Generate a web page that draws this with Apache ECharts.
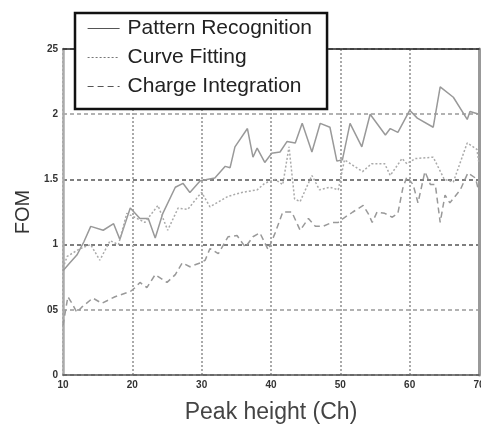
<!DOCTYPE html>
<html>
<head>
<meta charset="utf-8">
<script src="https://cdn.jsdelivr.net/npm/echarts@6/dist/echarts.min.js"></script>
<style>
html,body{margin:0;padding:0;background:#fff;}
#chart{width:481px;height:426px;}
</style>
</head>
<body>
<div id="chart"></div>
<script>
var seriesNames = ['Pattern Recognition', 'Curve Fitting', 'Charge Integration'];
var xTickLabels = ['10', '20', '30', '40', '50', '60', '70'];
var yTickLabels = ['0', '05', '1', '1.5', '2', '25'];

var prX = [10, 11, 12, 13, 14, 15.8, 17.3, 18.2, 19.7, 21.1, 22.3, 23.3, 24.4, 26.2, 27.3, 28.3, 29.8, 31.9, 33.4, 34.1, 34.8, 36.6, 37.4, 38, 39.1, 40.1, 41.3, 42.3, 43.5, 44.5, 45.9, 47.1, 48.5, 49.5, 50.3, 51.4, 53.1, 54.3, 56.5, 57.2, 58.3, 60, 61.1, 63.4, 64.4, 66.3, 68.3, 68.7, 70];
var prY = [0.80, 0.86, 0.92, 1.02, 1.14, 1.11, 1.16, 1.04, 1.28, 1.20, 1.20, 1.05, 1.24, 1.44, 1.47, 1.40, 1.49, 1.51, 1.60, 1.59, 1.75, 1.89, 1.67, 1.74, 1.63, 1.70, 1.71, 1.79, 1.78, 1.93, 1.71, 1.93, 1.90, 1.64, 1.65, 1.93, 1.75, 2.00, 1.84, 1.89, 1.86, 2.03, 1.97, 1.90, 2.21, 2.13, 1.96, 2.02, 2.00];

var cfX = [10, 10.6, 12.5, 14, 15.3, 16.8, 18, 19.2, 20.7, 21.8, 23.7, 25.1, 26.6, 28, 29.5, 30, 31.2, 33.8, 35.8, 38, 39.1, 40.6, 41.7, 42.6, 43.4, 44.2, 45.9, 47, 48.5, 49.7, 50.6, 53.2, 54.5, 56.4, 57.2, 58.9, 59.6, 60.8, 63.4, 65, 66.3, 68.3, 69.7, 70];
var cfY = [0.82, 0.91, 0.97, 1.00, 0.88, 1.03, 1.00, 1.24, 1.20, 1.17, 1.30, 1.11, 1.28, 1.27, 1.37, 1.40, 1.29, 1.37, 1.40, 1.42, 1.47, 1.50, 1.46, 1.75, 1.35, 1.33, 1.53, 1.42, 1.44, 1.42, 1.65, 1.56, 1.62, 1.62, 1.53, 1.66, 1.62, 1.66, 1.67, 1.50, 1.48, 1.78, 1.73, 1.62];

var ciX = [10, 10.7, 11.3, 12, 12.7, 14.3, 15.6, 17.5, 19.7, 20.4, 21.1, 22.1, 23.3, 25, 26.2, 27.2, 28.3, 29.8, 30.5, 31.2, 32.4, 33.8, 35.1, 36.3, 37.4, 38.4, 39.6, 40.6, 41.7, 43, 44.2, 45.4, 46.4, 47.5, 48.8, 49.7, 50.4, 51.8, 53.3, 54, 54.6, 55.3, 56.4, 57.5, 58.3, 59, 59.6, 60.5, 61.2, 62.2, 63, 63.7, 64.4, 65.1, 65.8, 67.3, 68.4, 69.5, 70];
var ciY = [0.38, 0.60, 0.55, 0.48, 0.52, 0.59, 0.55, 0.60, 0.64, 0.67, 0.71, 0.67, 0.77, 0.71, 0.77, 0.86, 0.83, 0.86, 0.88, 0.97, 0.93, 1.06, 1.07, 0.98, 1.06, 1.09, 0.96, 1.09, 1.25, 1.25, 1.11, 1.20, 1.14, 1.14, 1.17, 1.17, 1.20, 1.25, 1.30, 1.24, 1.17, 1.25, 1.24, 1.21, 1.24, 1.43, 1.52, 1.46, 1.32, 1.56, 1.46, 1.46, 1.17, 1.38, 1.32, 1.42, 1.55, 1.51, 1.40];

function pairs(xs, ys) { return xs.map(function (x, i) { return [x, ys[i]]; }); }

var chart = echarts.init(document.getElementById('chart'), null, {renderer: 'canvas'});
var font = 'Liberation Sans, Arial, sans-serif';
var hiddenSymbol = {color: 'rgba(0,0,0,0)', borderWidth: 0, opacity: 0};
var option = {
  animation: false,
  backgroundColor: '#fff',
  grid: {left: 63, right: 2, top: 49, bottom: 51, containLabel: false, outerBoundsMode: 'none'},
  legend: {
    orient: 'vertical',
    left: 75, top: 13,
    padding: [5, 15, 12, 12],
    itemGap: 8,
    itemWidth: 32, itemHeight: 14,
    borderColor: '#111', borderWidth: 2.5,
    backgroundColor: '#fff',
    z: 10,
    itemStyle: hiddenSymbol,
    textStyle: {fontFamily: font, fontSize: 21, color: '#222', padding: [0, 0, 0, 3]},
    data: [
      {name: seriesNames[0], itemStyle: hiddenSymbol, lineStyle: {color: '#555', width: 1.2}},
      {name: seriesNames[1], itemStyle: hiddenSymbol, lineStyle: {color: '#777', width: 1.2}},
      {name: seriesNames[2], itemStyle: hiddenSymbol, lineStyle: {color: '#555', width: 1.2}}
    ]
  },
  xAxis: [{
    type: 'value', min: 10, max: 70, interval: 10,
    name: 'Peak height (Ch)', nameLocation: 'middle', nameGap: 26,
    nameTextStyle: {fontFamily: font, fontSize: 23, color: '#444'},
    axisLine: {show: true, lineStyle: {color: '#555', width: 1.5}},
    axisTick: {show: false},
    axisLabel: {fontFamily: font, fontSize: 10, fontWeight: 'bold', color: '#333', margin: 5,
      formatter: function (v) { return xTickLabels[Math.round((v - 10) / 10)]; }},
    splitLine: {show: true, lineStyle: {color: '#aaa', width: 2, type: [2, 2]}}
  }, {
    type: 'value', min: 10, max: 70, position: 'top',
    axisLine: {show: true, onZero: false, lineStyle: {color: '#222', width: 1.5}},
    axisTick: {show: false}, axisLabel: {show: false}, splitLine: {show: false}
  }],
  yAxis: [{
    type: 'value', min: 0, max: 2.5, interval: 0.5,
    name: 'FOM', nameLocation: 'middle', nameGap: 30, nameRotate: 90,
    nameTextStyle: {fontFamily: font, fontSize: 20, color: '#333'},
    axisLine: {show: true, lineStyle: {color: '#aaa', width: 2.5}},
    axisTick: {show: false},
    axisLabel: {fontFamily: font, fontSize: 10, fontWeight: 'bold', color: '#333', margin: 5,
      formatter: function (v) { return yTickLabels[Math.round(v / 0.5)]; }},
    splitLine: {show: true, lineStyle: {color: ['#888', '#999', '#555', '#555', '#999', '#888'], width: 1.5, type: [4, 3]}}
  }, {
    type: 'value', min: 0, max: 2.5, position: 'right',
    axisLine: {show: true, onZero: false, lineStyle: {color: '#999', width: 3}},
    axisTick: {show: false}, axisLabel: {show: false}, splitLine: {show: false}
  }],
  series: [
    {name: seriesNames[0], type: 'line', symbol: 'none', data: pairs(prX, prY),
      lineStyle: {color: '#999', width: 1.5, type: 'solid'}, itemStyle: {color: '#555'}},
    {name: seriesNames[1], type: 'line', symbol: 'none', data: pairs(cfX, cfY),
      lineStyle: {color: '#aaa', width: 1.5, type: [2, 2]}, itemStyle: {color: '#555'}},
    {name: seriesNames[2], type: 'line', symbol: 'none', data: pairs(ciX, ciY),
      lineStyle: {color: '#999', width: 1.5, type: [6, 4]}, itemStyle: {color: '#555'}}
  ]
};
chart.setOption(option);
</script>
</body>
</html>
